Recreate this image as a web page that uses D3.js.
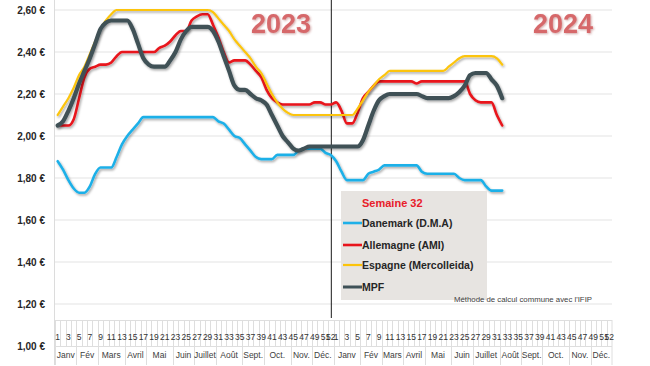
<!DOCTYPE html>
<html>
<head>
<meta charset="utf-8">
<script src="https://cdn.jsdelivr.net/npm/d3@7"></script>
<style>
  body { margin: 0; background: #ffffff; }
  svg { display: block; font-family: "Liberation Sans", Arial, sans-serif; }
</style>
</head>
<body>
<div class="chart"></div>
<script>
/* Weeks of each year (categories) */
var WEEKS_2023 = d3.range(1, 53);
var WEEKS_2024 = d3.range(1, 53);

/* Month labels and how many weeks each one spans */
var MONTHS = ["Janv", "Fév", "Mars", "Avril", "Mai", "Juin", "Juillet", "Août", "Sept.", "Oct.", "Nov.", "Déc."];
var MONTH_WEEKS_2023 = [4, 4, 5, 4, 5, 4, 4, 5, 4, 5, 4, 4];
var MONTH_WEEKS_2024 = [5, 4, 4, 4, 5, 4, 5, 4, 4, 5, 4, 4];

var Y_TICKS = [1.00, 1.20, 1.40, 1.60, 1.80, 2.00, 2.20, 2.40, 2.60];

/* Prices, €/kg, by week */
var danemark2023 = [1.88, 1.84, 1.79, 1.75, 1.73, 1.73, 1.76, 1.82, 1.85, 1.85,
  1.85, 1.90, 1.96, 2.00, 2.03, 2.06, 2.09, 2.09, 2.09, 2.09,
  2.09, 2.09, 2.09, 2.09, 2.09, 2.09, 2.09, 2.09, 2.09, 2.09,
  2.07, 2.06, 2.03, 2.00, 1.99, 1.96, 1.93, 1.90, 1.89, 1.89,
  1.89, 1.91, 1.91, 1.91, 1.91, 1.93, 1.94, 1.94, 1.94, 1.94,
  1.92, 1.91];
var danemark2024 = [1.88, 1.83, 1.79, 1.79, 1.79, 1.79, 1.82, 1.83, 1.84, 1.86,
  1.86, 1.86, 1.86, 1.86, 1.86, 1.86, 1.83, 1.82, 1.82, 1.82,
  1.82, 1.82, 1.82, 1.80, 1.79, 1.79, 1.79, 1.79, 1.76, 1.74,
  1.74, 1.74];

var allemagne2023 = [2.05, 2.05, 2.05, 2.08, 2.18, 2.28, 2.32, 2.33, 2.34, 2.34,
  2.35, 2.38, 2.40, 2.40, 2.40, 2.40, 2.40, 2.40, 2.40, 2.42,
  2.43, 2.45, 2.48, 2.50, 2.50, 2.55, 2.57, 2.58, 2.58, 2.53,
  2.47, 2.40, 2.35, 2.36, 2.36, 2.36, 2.34, 2.31, 2.28, 2.22,
  2.18, 2.16, 2.15, 2.15, 2.15, 2.15, 2.15, 2.15, 2.16, 2.16,
  2.15, 2.15];
var allemagne2024 = [2.16, 2.12, 2.06, 2.06, 2.11, 2.18, 2.21, 2.24, 2.26, 2.26,
  2.26, 2.26, 2.26, 2.26, 2.26, 2.25, 2.26, 2.26, 2.26, 2.26,
  2.26, 2.26, 2.26, 2.26, 2.26, 2.20, 2.17, 2.16, 2.16, 2.16,
  2.10, 2.05];

var espagne2023 = [2.10, 2.14, 2.18, 2.23, 2.29, 2.33, 2.39, 2.45, 2.51, 2.55,
  2.58, 2.60, 2.60, 2.60, 2.60, 2.60, 2.60, 2.60, 2.60, 2.60,
  2.60, 2.60, 2.60, 2.60, 2.60, 2.60, 2.60, 2.60, 2.60, 2.59,
  2.56, 2.53, 2.50, 2.46, 2.43, 2.40, 2.37, 2.33, 2.30, 2.25,
  2.20, 2.16, 2.13, 2.11, 2.10, 2.10, 2.10, 2.10, 2.10, 2.10,
  2.10, 2.10];
var espagne2024 = [2.10, 2.10, 2.10, 2.10, 2.13, 2.17, 2.21, 2.24, 2.27, 2.29,
  2.31, 2.31, 2.31, 2.31, 2.31, 2.31, 2.31, 2.31, 2.31, 2.31,
  2.31, 2.33, 2.35, 2.37, 2.38, 2.38, 2.38, 2.38, 2.38, 2.38,
  2.37, 2.34];

var mpf2023 = [2.05, 2.07, 2.12, 2.18, 2.25, 2.31, 2.37, 2.44, 2.51, 2.54,
  2.55, 2.55, 2.55, 2.55, 2.51, 2.44, 2.37, 2.34, 2.33, 2.33,
  2.33, 2.36, 2.40, 2.46, 2.50, 2.52, 2.52, 2.52, 2.52, 2.50,
  2.45, 2.38, 2.31, 2.24, 2.22, 2.22, 2.20, 2.18, 2.17, 2.15,
  2.10, 2.05, 2.00, 1.97, 1.94, 1.93, 1.94, 1.95, 1.95, 1.95,
  1.95, 1.95];
var mpf2024 = [1.95, 1.95, 1.95, 1.95, 1.95, 1.98, 2.05, 2.12, 2.17, 2.19,
  2.20, 2.20, 2.20, 2.20, 2.20, 2.20, 2.19, 2.18, 2.18, 2.18,
  2.18, 2.18, 2.19, 2.21, 2.24, 2.29, 2.30, 2.30, 2.30, 2.27,
  2.24, 2.18];

var SERIES = [
  { name: "Danemark (D.M.A)", color: "#1fb0e8", width: 2.6, values: danemark2023.concat(danemark2024) },
  { name: "Allemagne (AMI)", color: "#e8141c", width: 2.6, values: allemagne2023.concat(allemagne2024) },
  { name: "Espagne (Mercolleida)", color: "#fcc40a", width: 2.2, values: espagne2023.concat(espagne2024) },
  { name: "MPF", color: "#3f5157", width: 4.2, values: mpf2023.concat(mpf2024) }
];

var WIDTH = 650, HEIGHT = 366;
var LEFT = 55, RIGHT = 612;
var TABLE_TOP = 320, WEEK_ROW_BOTTOM = 346, MONTH_ROW_BOTTOM = 365;

var categories = WEEKS_2023.map(function (w) { return "2023-" + w; })
  .concat(WEEKS_2024.map(function (w) { return "2024-" + w; }));

var x = d3.scaleBand().domain(categories).range([LEFT, RIGHT]);
var bw = x.bandwidth();
var y = d3.scaleLinear().domain([1.0, 2.6]).range([346, 10]);

function cx(key) { return x(key) + bw / 2; }
function euro(v) { return v.toFixed(2).replace(".", ",") + " €"; }

var svg = d3.select("div.chart").append("svg")
  .attr("width", WIDTH).attr("height", HEIGHT);

var defs = svg.append("defs");
defs.append("filter").attr("id", "shadow")
  .attr("x", "-5%").attr("y", "-20%").attr("width", "110%").attr("height", "140%")
  .append("feDropShadow")
  .attr("dx", 1.2).attr("dy", 1.6).attr("stdDeviation", 1)
  .attr("flood-color", "#000").attr("flood-opacity", 0.35);
defs.append("filter").attr("id", "glow")
  .append("feDropShadow")
  .attr("dx", 1).attr("dy", 1).attr("stdDeviation", 0.8)
  .attr("flood-color", "#9a3a3c").attr("flood-opacity", 0.45);

/* Horizontal gridlines */
svg.append("g").selectAll("line")
  .data(Y_TICKS.filter(function (t) { return t > 1.0; }))
  .join("line")
  .attr("x1", LEFT).attr("x2", RIGHT)
  .attr("y1", function (d) { return y(d); })
  .attr("y2", function (d) { return y(d); })
  .attr("stroke", "#e3e3e3").attr("stroke-width", 1);

/* Left axis line */
svg.append("line")
  .attr("x1", LEFT - 0.5).attr("x2", LEFT - 0.5)
  .attr("y1", 0).attr("y2", MONTH_ROW_BOTTOM)
  .attr("stroke", "#dcdcdc");

/* Y labels */
svg.append("g").selectAll("text")
  .data(Y_TICKS)
  .join("text")
  .attr("x", 45).attr("y", function (d) { return y(d) + 3.5; })
  .attr("text-anchor", "end")
  .attr("font-size", "10px").attr("font-weight", "bold")
  .attr("fill", "#262626")
  .text(euro);

/* Category table: week separators and month separators */
var table = svg.append("g").attr("stroke", "#dedede").attr("stroke-width", 1);
table.selectAll("line.week")
  .data(categories.concat(["end"]))
  .join("line")
  .attr("class", "week")
  .attr("x1", function (d) { return d === "end" ? RIGHT : Math.round(x(d)) + 0.5; })
  .attr("x2", function (d) { return d === "end" ? RIGHT : Math.round(x(d)) + 0.5; })
  .attr("y1", TABLE_TOP).attr("y2", WEEK_ROW_BOTTOM);
table.append("line")
  .attr("x1", LEFT).attr("x2", RIGHT)
  .attr("y1", TABLE_TOP + 0.5).attr("y2", TABLE_TOP + 0.5);
table.append("line")
  .attr("x1", LEFT).attr("x2", RIGHT)
  .attr("y1", WEEK_ROW_BOTTOM + 0.5).attr("y2", WEEK_ROW_BOTTOM + 0.5);

var monthCells = [];
[[2023, MONTH_WEEKS_2023], [2024, MONTH_WEEKS_2024]].forEach(function (pair) {
  var start = 1;
  pair[1].forEach(function (n, i) {
    monthCells.push({ name: MONTHS[i], first: pair[0] + "-" + start, last: pair[0] + "-" + (start + n - 1) });
    start += n;
  });
});

table.selectAll("line.month")
  .data(monthCells)
  .join("line")
  .attr("class", "month")
  .attr("x1", function (d) { return Math.round(x(d.first)) + 0.5; })
  .attr("x2", function (d) { return Math.round(x(d.first)) + 0.5; })
  .attr("y1", WEEK_ROW_BOTTOM).attr("y2", MONTH_ROW_BOTTOM);
table.append("line")
  .attr("x1", RIGHT).attr("x2", RIGHT)
  .attr("y1", WEEK_ROW_BOTTOM).attr("y2", MONTH_ROW_BOTTOM);

svg.append("g").selectAll("text")
  .data(monthCells)
  .join("text")
  .attr("x", function (d) { return (x(d.first) + x(d.last) + bw) / 2; })
  .attr("y", 358)
  .attr("text-anchor", "middle")
  .attr("font-size", "8.5px").attr("fill", "#404040")
  .text(function (d) { return d.name; });

/* Week labels: odd weeks plus the last week of each year */
var weekLabels = categories.filter(function (c) {
  var w = +c.split("-")[1];
  return w % 2 === 1 || w === 52;
});
svg.append("g").selectAll("text")
  .data(weekLabels)
  .join("text")
  .attr("x", function (d) { return cx(d); })
  .attr("y", 340)
  .attr("text-anchor", "middle")
  .attr("font-size", "8.5px").attr("fill", "#333333")
  .text(function (d) { return d.split("-")[1]; });

/* Divider between the two years */
svg.append("line")
  .attr("x1", cx("2023-52") + 0.5).attr("x2", cx("2023-52") + 0.5)
  .attr("y1", 0).attr("y2", TABLE_TOP - 2)
  .attr("stroke", "#1a1a1a").attr("stroke-width", 1);

/* Year titles */
svg.append("text").attr("x", 281).attr("y", 32.5)
  .attr("text-anchor", "middle").attr("font-size", "27px").attr("font-weight", "bold")
  .attr("fill", "#d6686b").attr("filter", "url(#glow)").text("2023");
svg.append("text").attr("x", 563).attr("y", 33)
  .attr("text-anchor", "middle").attr("font-size", "27px").attr("font-weight", "bold")
  .attr("fill", "#d6686b").attr("filter", "url(#glow)").text("2024");

/* Lines */
var line = d3.line()
  .x(function (d, i) { return cx(categories[i]); })
  .y(function (d) { return y(d); })
  .curve(d3.curveMonotoneX);

svg.append("g").selectAll("path")
  .data(SERIES)
  .join("path")
  .attr("d", function (s) { return line(s.values); })
  .attr("fill", "none")
  .attr("stroke", function (s) { return s.color; })
  .attr("stroke-width", function (s) { return s.width; })
  .attr("stroke-linejoin", "round")
  .attr("stroke-linecap", "round")
  .attr("filter", "url(#shadow)");

/* Legend */
var legend = svg.append("g");
legend.append("rect")
  .attr("x", 341).attr("y", 191).attr("width", 146).attr("height", 109)
  .attr("fill", "#e7e4e1");
legend.append("text")
  .attr("x", 362).attr("y", 207)
  .attr("font-size", "11px").attr("font-weight", "bold").attr("fill", "#e8202a")
  .text("Semaine 32");
var LEGEND_Y = [223, 245, 265, 287];
var items = legend.selectAll("g.item")
  .data(SERIES)
  .join("g")
  .attr("class", "item")
  .attr("transform", function (d, i) { return "translate(0," + LEGEND_Y[i] + ")"; });
items.append("line")
  .attr("x1", 343).attr("x2", 362)
  .attr("stroke", function (s) { return s.color; })
  .attr("stroke-width", function (s) { return Math.min(s.width, 3); });
items.append("text")
  .attr("x", 362).attr("y", 4)
  .attr("font-size", "10.5px").attr("font-weight", "bold").attr("fill", "#262626")
  .text(function (s) { return s.name; });

svg.append("text")
  .attr("x", 454).attr("y", 302)
  .attr("font-size", "7.8px").attr("fill", "#404040")
  .text("Méthode de calcul commune avec l'IFIP");
</script>
</body>
</html>
